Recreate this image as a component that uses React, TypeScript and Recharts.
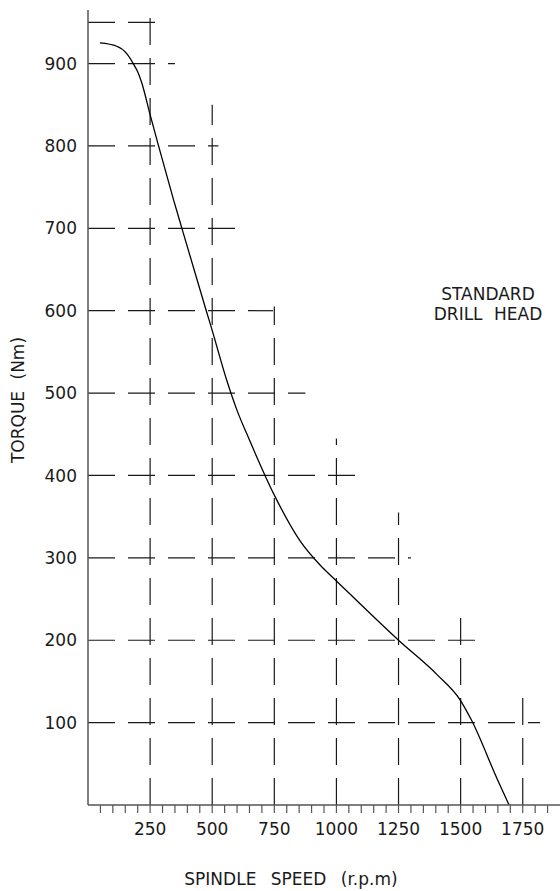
import { Line, LineChart, ReferenceLine, XAxis, YAxis } from "recharts";

const W = 560;
const H = 891;
const FONT = "'DejaVu Sans', sans-serif";
const INK = "#1a1a1a";
const AXIS = "#555555";

// torque curve
const SPEED = [48, 116, 156, 182, 200, 216, 250, 284, 345, 378, 476, 499, 560, 600, 650, 747, 855, 935, 1000, 1250, 1406, 1497, 1542, 1648, 1695];
const TORQUE = [925, 921, 912, 900, 890, 877, 838, 800, 734, 700, 600, 577, 514, 479, 443, 378, 320, 291, 272, 200, 158, 128, 104, 31, 0];

// dashed guide lines: horizontal ones stop at a given speed, vertical ones at a given torque
const H_GRID_TORQUE = [950, 900, 800, 700, 600, 500, 400, 300, 200, 100];
const H_GRID_END = [275, 350, 525, 605, 745, 875, 1100, 1300, 1560, 1820];
const V_GRID_SPEED = [250, 500, 750, 1000, 1250, 1500, 1750];
const V_GRID_END = [965, 850, 605, 445, 355, 230, 130];

const X_TICKS = Array.from({ length: 37 }, (_, i) => 50 + i * 50);
const Y_TICKS = [100, 200, 300, 400, 500, 600, 700, 800, 900];

const data = SPEED.map((rpm, i) => ({ rpm, torque: TORQUE[i] }));

export default function App() {
  return (
    <div style={{ position: "absolute", left: 0, top: 0, width: W, height: H, background: "#fff" }}>
      <LineChart width={W} height={H} data={data} margin={{ top: 10, right: 0, bottom: 56, left: 0 }}>
        <XAxis
          type="number"
          dataKey="rpm"
          domain={[0, 1900]}
          ticks={X_TICKS}
          interval={0}
          tickFormatter={(v: number) => (v % 250 === 0 ? String(v) : "")}
          tick={{ fontSize: 17, fill: INK, fontFamily: FONT }}
          tickSize={8}
          tickMargin={10}
          tickLine={{ stroke: AXIS, strokeWidth: 1.2 }}
          axisLine={{ stroke: AXIS, strokeWidth: 1.5 }}
          height={30}
        />
        <YAxis
          type="number"
          domain={[0, 965]}
          ticks={Y_TICKS}
          interval={0}
          width={88}
          tick={{ fontSize: 17, fill: INK, fontFamily: FONT }}
          tickLine={false}
          tickMargin={5}
          axisLine={{ stroke: AXIS, strokeWidth: 1.5 }}
        />
        {H_GRID_TORQUE.map((t, i) => (
          <ReferenceLine
            key={"h" + t}
            segment={[
              { x: 0, y: t },
              { x: H_GRID_END[i], y: t },
            ]}
            stroke={INK}
            strokeWidth={1.2}
            strokeDasharray="27 13"
          />
        ))}
        {V_GRID_SPEED.map((s, i) => (
          <ReferenceLine
            key={"v" + s}
            segment={[
              { x: s, y: 0 },
              { x: s, y: V_GRID_END[i] },
            ]}
            stroke={INK}
            strokeWidth={1.2}
            strokeDasharray="27 13"
          />
        ))}
        <Line
          type="monotone"
          dataKey="torque"
          stroke="#000"
          strokeWidth={1.3}
          dot={false}
          isAnimationActive={false}
        />
      </LineChart>
      <svg
        width={W}
        height={H}
        style={{ position: "absolute", left: 0, top: 0, pointerEvents: "none" }}
        fontFamily={FONT}
        fill={INK}
      >
        <text x={291} y={885} fontSize={17} textAnchor="middle" wordSpacing={9}>
          SPINDLE SPEED (r.p.m)
        </text>
        <text x={24} y={400} fontSize={17} textAnchor="middle" wordSpacing={6} transform="rotate(-90 24 400)">
          TORQUE (Nm)
        </text>
        <text x={488} y={300} fontSize={17} textAnchor="middle">
          STANDARD
        </text>
        <text x={488} y={320} fontSize={17} textAnchor="middle" wordSpacing={6}>
          DRILL HEAD
        </text>
      </svg>
    </div>
  );
}
